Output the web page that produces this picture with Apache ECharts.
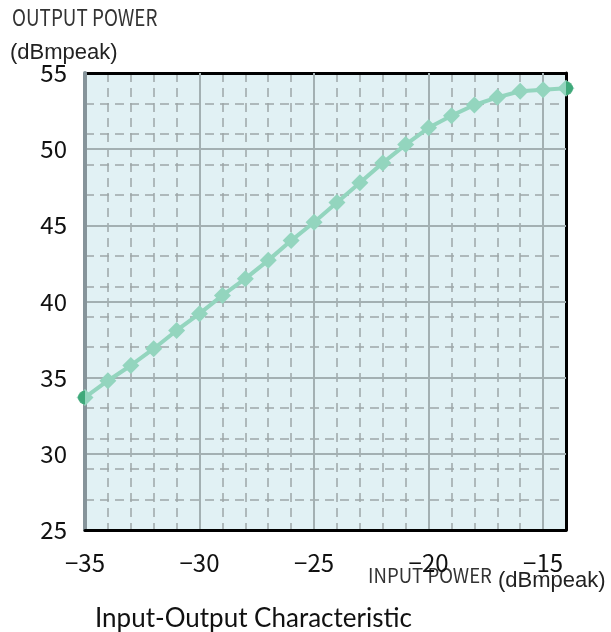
<!DOCTYPE html>
<html>
<head>
<meta charset="utf-8">
<script src="https://cdn.jsdelivr.net/npm/echarts@6/dist/echarts.min.js"></script>
<style>
  html, body { margin: 0; padding: 0; background: #fff; }
  #chart { width: 611px; height: 632px; }
</style>
</head>
<body>
<div id="chart"></div>
<script>
// input power (dBmpeak) and measured output power (dBmpeak)
var inputPower = [-35, -34, -33, -32, -31, -30, -29, -28, -27, -26, -25, -24, -23, -22, -21, -20, -19, -18, -17, -16, -15, -14];
var outputPower = [33.7, 34.8, 35.8, 36.9, 38.1, 39.2, 40.4, 41.5, 42.7, 44.0, 45.2, 46.5, 47.8, 49.1, 50.3, 51.4, 52.2, 52.9, 53.4, 53.8, 53.9, 54.0];

var yTicks = [25, 30, 35, 40, 45, 50, 55];
var xTicks = [-35, -30, -25, -20, -15];

var gothic = '"Noto Sans CJK JP"';
var regular = '"Liberation Sans"';

var lineColor = '#93d5be';
var endColor = '#2b9d69';
var solidGrid = '#a3b0b2';
var dashGrid = '#9da6a8';

// make points for the series from the arrays
var points = [];
for (var i = 0; i < inputPower.length; i++) {
  points.push([inputPower[i], outputPower[i]]);
}
var last = inputPower.length - 1;
var endPoints = [
  { value: [inputPower[0], outputPower[0]], symbol: 'path://M10,0 A10,10 0 0 0 10,20 Z', symbolOffset: [-3.5, 0] },
  { value: [inputPower[last], outputPower[last]], symbol: 'path://M0,0 A10,10 0 0 1 0,20 Z', symbolOffset: [3.5, 0] }
];

function minus(v) {
  return v < 0 ? '\u2212' + Math.abs(v) : '' + v;
}

var chart = echarts.init(document.getElementById('chart'));

var option = {
  animation: false,
  backgroundColor: '#ffffff',
  title: [
    { text: '(dBmpeak)', left: 5, top: 37, textStyle: { fontFamily: regular, fontSize: 22, fontWeight: 'normal', color: '#222' } },
    { text: '(dBmpeak)', left: 493, top: 565, textStyle: { fontFamily: regular, fontSize: 22, fontWeight: 'normal', color: '#222' } },
    { text: 'Input-Output Characteristic', left: 90, top: 601, textStyle: { fontFamily: 'Lato', fontSize: 26, fontWeight: 'normal', color: '#111' } }
  ],
  // condensed axis titles
  graphic: [
    { type: 'text', x: 12, y: 6, scaleX: 0.82, style: { text: 'OUTPUT POWER', fontFamily: gothic, fontSize: 23, fill: '#333', verticalAlign: 'top' } },
    { type: 'text', x: 368, y: 565, scaleX: 0.93, style: { text: 'INPUT POWER', fontFamily: gothic, fontSize: 20, fill: '#333', verticalAlign: 'top' } }
  ],
  grid: {
    left: 85, right: 45, top: 73, bottom: 102,
    show: true, backgroundColor: '#e1f1f4', borderWidth: 0
  },
  xAxis: [
    {
      type: 'value', min: -35, max: -14, interval: 5, position: 'bottom', z: 2,
      axisLine: { show: true, onZero: false, lineStyle: { color: '#000', width: 3 } },
      axisTick: { show: false },
      axisLabel: {
        margin: 21, fontFamily: gothic, fontSize: 24, color: '#111',
        formatter: function (v) { return xTicks.indexOf(v) >= 0 ? minus(v) : ''; }
      },
      splitLine: { show: true, showMinLine: false, showMaxLine: false, lineStyle: { color: solidGrid, width: 2 } }
    },
    {
      type: 'value', min: -35, max: -14, interval: 1, position: 'top', z: 1,
      axisLine: { show: true, onZero: false, lineStyle: { color: '#000', width: 3 } },
      axisTick: { show: false }, axisLabel: { show: false },
      splitLine: { show: true, showMinLine: false, showMaxLine: false, lineStyle: { color: dashGrid, width: 1.5, type: [9, 6] } }
    }
  ],
  yAxis: [
    {
      type: 'value', min: 25, max: 55, interval: 5, position: 'left', z: 2,
      axisLine: { show: true, onZero: false, lineStyle: { color: '#86949a', width: 4 } },
      axisTick: { show: false },
      axisLabel: {
        margin: 18, fontFamily: gothic, fontSize: 24, color: '#111',
        formatter: function (v) { return yTicks.indexOf(v) >= 0 ? '' + v : ''; }
      },
      splitLine: { show: true, showMinLine: false, showMaxLine: false, lineStyle: { color: solidGrid, width: 2 } }
    },
    {
      type: 'value', min: 25, max: 55, interval: 2, position: 'right', z: 1,
      axisLine: { show: true, onZero: false, lineStyle: { color: '#000', width: 3 } },
      axisTick: { show: false }, axisLabel: { show: false },
      splitLine: { show: true, showMinLine: false, showMaxLine: false, lineStyle: { color: dashGrid, width: 1.5, type: [9, 6] } }
    }
  ],
  series: [
    {
      name: 'Output',
      type: 'line',
      xAxisIndex: 0, yAxisIndex: 0,
      data: points,
      symbol: 'diamond',
      symbolSize: 17,
      showAllSymbol: true,
      z: 5,
      itemStyle: { color: lineColor },
      lineStyle: { color: lineColor, width: 4 }
    },
    {
      name: 'Ends',
      type: 'scatter',
      xAxisIndex: 0, yAxisIndex: 0,
      data: endPoints,
      symbolSize: [7, 14],
      z: 6,
      itemStyle: { color: endColor }
    }
  ]
};

chart.setOption(option);
</script>
</body>
</html>
